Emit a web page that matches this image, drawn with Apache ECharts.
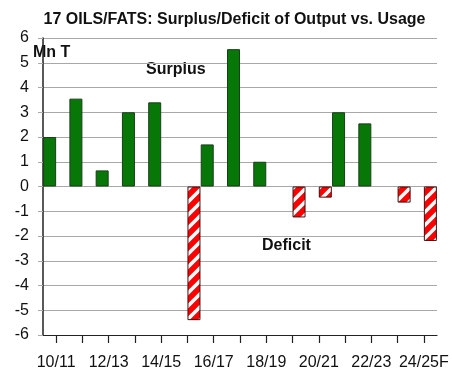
<!DOCTYPE html>
<html>
<head>
<meta charset="utf-8">
<script src="https://cdn.jsdelivr.net/npm/echarts@6/dist/echarts.min.js"></script>
<style>
  html, body { margin: 0; padding: 0; background: #fff; }
  #chart { width: 452px; height: 369px; }
</style>
</head>
<body>
<div id="chart"></div>
<script>
// Marketing years
const seasons = ['10/11', '11/12', '12/13', '13/14', '14/15', '15/16', '16/17', '17/18',
                 '18/19', '19/20', '20/21', '21/22', '22/23', '23/24', '24/25F'];
// Output minus usage, million tonnes
const balance = [2.0, 3.55, 0.65, 3.0, 3.4, -5.4, 1.7, 5.55, 1.0, -1.25, -0.45, 3.0, 2.55, -0.65, -2.2];
const yTicks = { min: -6, max: 6, step: 1 };

const surplus = balance.map(v => (v >= 0 ? v : '-'));
const deficit = balance.map(v => (v < 0 ? v : '-'));

// Red bars with white diagonal stripes
function stripePattern() {
  const s = 13;
  const c = document.createElement('canvas');
  c.width = s; c.height = s;
  const g = c.getContext('2d');
  g.fillStyle = '#ff0000';
  g.fillRect(0, 0, s, s);
  g.strokeStyle = '#ffffff';
  g.lineWidth = 3.6;
  g.beginPath();
  for (let k = -1; k <= 1; k++) {
    g.moveTo(k * s - 2, s + 2);
    g.lineTo(k * s + s + 2, -2);
  }
  g.stroke();
  return c;
}

const chart = echarts.init(document.getElementById('chart'), null, { renderer: 'canvas' });
const txt = '#111';
const font = 'Liberation Sans, Arial, sans-serif';

chart.setOption({
  animation: false,
  backgroundColor: '#ffffff',
  grid: { left: 43, right: 15, top: 38, bottom: 34, containLabel: false, outerBoundsMode: 'none' },
  xAxis: {
    type: 'category',
    data: seasons,
    axisLine: { onZero: false, lineStyle: { color: '#222', width: 1.2 } },
    axisTick: { show: true, alignWithLabel: true, interval: 0, length: 8, lineStyle: { color: '#222', width: 1.2 } },
    axisLabel: { interval: 1, margin: 20, color: txt, fontSize: 16, fontFamily: font },
    splitLine: { show: false }
  },
  yAxis: {
    type: 'value',
    min: yTicks.min,
    max: yTicks.max,
    interval: yTicks.step,
    axisLine: { show: true, lineStyle: { color: '#222', width: 1.5 } },
    axisTick: { show: true, length: 5, lineStyle: { color: '#aaa' } },
    axisLabel: { margin: 14, color: txt, fontSize: 16, fontFamily: font },
    splitLine: { lineStyle: { color: '#a8a8a8', width: 1 } }
  },
  series: [
    {
      name: 'Surplus',
      type: 'bar',
      data: surplus,
      barWidth: 13,
      barGap: '0%',
      itemStyle: { color: '#077807', borderColor: '#1b3d1b', borderWidth: 1 }
    },
    {
      name: 'Deficit',
      type: 'bar',
      data: deficit,
      barWidth: 13,
      barGap: '0%',
      itemStyle: { color: { image: stripePattern(), repeat: 'repeat' }, borderColor: '#3a1010', borderWidth: 1 }
    }
  ],
  graphic: [
    { type: 'text', x: 234.5, y: 20, style: { text: '17 OILS/FATS: Surplus/Deficit of Output vs. Usage', fill: txt,
      font: 'bold 16px ' + font, textAlign: 'center', textVerticalAlign: 'middle' } },
    { type: 'text', x: 33, y: 53, style: { text: 'Mn T', fill: txt,
      font: 'bold 16px ' + font, textAlign: 'left', textVerticalAlign: 'middle' } },
    { type: 'text', x: 146, y: 70, style: { text: 'Surplus', fill: txt,
      font: 'bold 16px ' + font, textAlign: 'left', textVerticalAlign: 'middle' } },
    { type: 'text', x: 262, y: 245.5, style: { text: 'Deficit', fill: txt,
      font: 'bold 16px ' + font, textAlign: 'left', textVerticalAlign: 'middle' } }
  ]
});
</script>
</body>
</html>
